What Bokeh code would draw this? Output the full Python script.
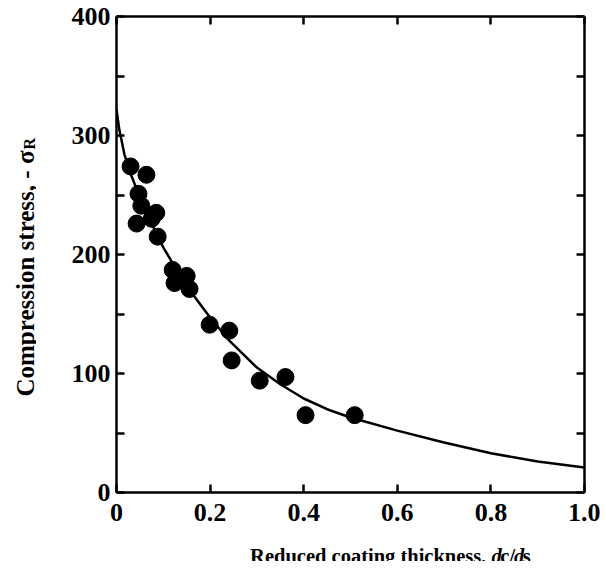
import math
from bokeh.plotting import figure
from bokeh.models import LinearAxis, FixedTicker, Range1d
from bokeh.layouts import row, column
from bokeh.core.properties import value
from bokeh.embed import file_html
from bokeh.resources import INLINE

# measured points: reduced coating thickness dc/ds vs compression stress -sigma_R
pts_x = [0.030, 0.064, 0.047, 0.053, 0.085, 0.043, 0.075, 0.088, 0.120, 0.150,
         0.124, 0.156, 0.199, 0.241, 0.246, 0.306, 0.361, 0.404, 0.509]
pts_y = [274, 267, 251, 241, 235, 226, 230, 215, 187, 182,
         176, 171, 141, 136, 111, 94, 97, 65, 65]

# fitted curve
curve_x = [0.0, 0.006, 0.017, 0.03, 0.05, 0.075, 0.1, 0.13, 0.16, 0.2,
           0.24, 0.3, 0.35, 0.4, 0.45, 0.5, 0.6, 0.7, 0.8, 0.9, 1.0]
curve_y = [322, 305, 284, 268, 248, 226, 206, 186, 168, 147,
           128, 105, 91, 79, 70, 63, 52, 42, 33, 26, 21]

x_ticks = [0, 0.2, 0.4, 0.6, 0.8, 1.0]
x_tick_labels = ["0", "0.2", "0.4", "0.6", "0.8", "1.0"]
y_ticks = [0, 100, 200, 300, 400]
y_minor = [50, 150, 250, 350]
y_tick_labels = ["0", "100", "200", "300", "400"]

FONT = "Liberation Serif"
LW = 36          # width of the strip holding the y title
PW, PH = 564, 540
BH = 21          # height of the strip holding the x title

p = figure(width=PW, height=PH, output_backend="svg", toolbar_location=None,
           x_range=Range1d(0, 1.0), y_range=Range1d(0, 400),
           frame_width=468, frame_height=476,
           min_border_left=80, min_border_right=16, min_border_top=16,
           min_border_bottom=48, x_axis_location=None, y_axis_location=None)
p.background_fill_color = "white"
p.border_fill_color = "white"
p.outline_line_color = None
p.xgrid.visible = False
p.ygrid.visible = False

def style(ax, ticks, minor, labels, show, standoff):
    ax.ticker = FixedTicker(ticks=ticks, minor_ticks=minor)
    ax.major_tick_in = 8
    ax.major_tick_out = 0
    ax.minor_tick_in = 8
    ax.minor_tick_out = 0
    ax.axis_line_width = 2.5
    ax.major_tick_line_width = 2.5
    ax.minor_tick_line_width = 2.5
    ax.axis_line_color = "black"
    ax.major_tick_line_color = "black"
    ax.minor_tick_line_color = "black"
    if show:
        ax.major_label_overrides = dict(zip(ticks, labels))
        ax.major_label_text_font = FONT
        ax.major_label_text_font_size = "26px"
        ax.major_label_text_font_style = "bold"
        ax.major_label_text_color = "black"
        ax.major_label_standoff = standoff
    else:
        ax.major_label_text_font_size = "0px"
        ax.major_label_text_color = None

bx = LinearAxis(); style(bx, x_ticks, [], x_tick_labels, True, 11)
tx = LinearAxis(); style(tx, x_ticks, [], x_tick_labels, False, 0)
ly = LinearAxis(); style(ly, y_ticks, y_minor, y_tick_labels, True, 6)
ry = LinearAxis(); style(ry, y_ticks, y_minor, y_tick_labels, False, 0)
p.add_layout(bx, "below")
p.add_layout(tx, "above")
p.add_layout(ly, "left")
p.add_layout(ry, "right")

p.line(curve_x, curve_y, line_color="black", line_width=2.5)
p.scatter(pts_x, pts_y, size=17, fill_color="black", line_color="black")


def strip(w, h):
    f = figure(width=w, height=h, output_backend="svg", toolbar_location=None,
               x_range=Range1d(0, w), y_range=Range1d(h, 0), min_border=0,
               x_axis_location=None, y_axis_location=None)
    f.xgrid.visible = False
    f.ygrid.visible = False
    f.outline_line_color = None
    f.background_fill_color = "white"
    f.border_fill_color = "white"
    return f

tkw = dict(text_font=value(FONT), text_color="black", text_baseline="alphabetic")

# x axis title with italic d's
pb = strip(PW, BH)
X0 = 452
Y0 = 15
pb.text(x=[X0], y=[Y0], text=["Reduced coating thickness, "], text_align="right",
        text_font_size="20.5px", text_font_style="bold", **tkw)
pb.text(x=[X0, X0 + 27], y=[Y0, Y0], text=["d", "d"], text_align="left",
        text_font_size="20.5px", text_font_style="bold italic", **tkw)
pb.text(x=[X0 + 10.5, X0 + 37.5], y=[Y0, Y0], text=["c/", "s"], text_align="left",
        text_font_size="20.5px", text_font_style="bold", **tkw)

# y axis title with subscript R (reads bottom to top)
pl = strip(LW, 566)
YX = 25
YY = 150
pl.text(x=[YX], y=[YY], text=["Compression stress, - σ"], angle=math.pi / 2,
        text_align="right", text_font_size="25px", text_font_style="bold", **tkw)
pl.text(x=[YX + 4], y=[YY - 1], text=["R"], angle=math.pi / 2,
        text_align="left", text_font_size="16px", text_font_style="bold", **tkw)

layout = row(pl, column(p, pb))
open("out.html", "w").write(file_html(layout, INLINE))
